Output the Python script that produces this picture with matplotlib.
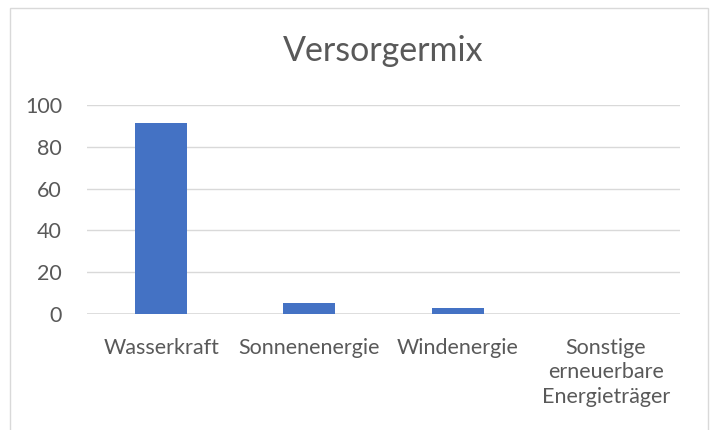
import matplotlib.pyplot as plt
from matplotlib.patches import Rectangle

# Daten
kategorien = ["Wasserkraft", "Sonnenenergie", "Windenergie",
              "Sonstige\nerneuerbare\nEnergieträger"]
werte = [91.6, 5.3, 2.9, 0.0]
y_ticks = [0, 20, 40, 60, 80, 100]

plt.rcParams['font.family'] = ['Lato', 'DejaVu Sans']
grau = "#595959"

fig = plt.figure(figsize=(7.13, 4.30), dpi=100)
ax = fig.add_axes([87 / 713, 1 - 314 / 430, (680 - 87) / 713, (314 - 105) / 430])

x = range(len(kategorien))
ax.bar(x, werte, width=0.35, color="#4472C4", zorder=3)

ax.set_ylim(0, 100)
ax.set_xlim(-0.5, len(kategorien) - 0.5)
ax.set_yticks(y_ticks)
ax.set_xticks(list(x))
ax.set_xticklabels(kategorien, fontsize=15.5, color=grau, linespacing=1.3)
ax.tick_params(axis='y', labelsize=15.5, labelcolor=grau, length=0, pad=18)
ax.tick_params(axis='x', length=0, pad=17)
ax.grid(axis='y', color="#D9D9D9", linewidth=1, zorder=0)
for s in ax.spines.values():
    s.set_visible(False)
ax.axhline(0, color="#D9D9D9", linewidth=1.2, zorder=2)

fig.text(0.5 * (87 + 680) / 713, 1 - 51 / 430, "Versorgermix", ha='center', va='center',
         fontsize=24.5, color=grau)

# Rahmen des Diagramms
fig.patches.append(Rectangle((10 / 713, -0.05), (708 - 10) / 713, 1 - 8 / 430 + 0.05,
                             transform=fig.transFigure, fill=False,
                             edgecolor="#D9D9D9", linewidth=1))

fig.savefig("out.png", dpi=100)
